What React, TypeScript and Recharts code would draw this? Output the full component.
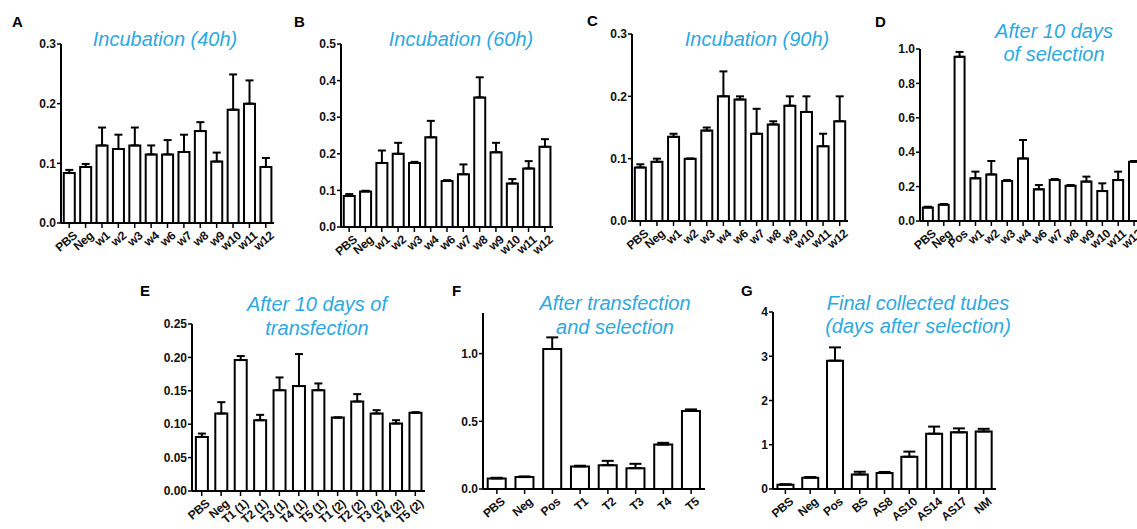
import React from 'react';
import { BarChart, Bar, XAxis, YAxis, ErrorBar } from 'recharts';

const FONT = '"Liberation Sans", Arial, Helvetica, sans-serif';
const TITLE_COLOR = '#2ea8df';

// Panel A
const aCats = ['PBS', 'Neg', 'w1', 'w2', 'w3', 'w4', 'w6', 'w7', 'w8', 'w9', 'w10', 'w11', 'w12'];
const aVals = [0.084, 0.094, 0.13, 0.124, 0.13, 0.115, 0.115, 0.119, 0.154, 0.103, 0.19, 0.2, 0.094];
const aErr = [0.005, 0.005, 0.03, 0.024, 0.03, 0.015, 0.024, 0.029, 0.015, 0.015, 0.059, 0.039, 0.015];
const aTicks = [0, 0.1, 0.2, 0.3];

// Panel B
const bCats = ['PBS', 'Neg', 'w1', 'w2', 'w3', 'w4', 'w6', 'w7', 'w8', 'w9', 'w10', 'w11', 'w12'];
const bVals = [0.085, 0.097, 0.175, 0.2, 0.175, 0.245, 0.126, 0.144, 0.354, 0.204, 0.119, 0.16, 0.219];
const bErr = [0.005, 0.002, 0.034, 0.03, 0.003, 0.045, 0.002, 0.027, 0.055, 0.026, 0.012, 0.02, 0.021];
const bTicks = [0, 0.1, 0.2, 0.3, 0.4, 0.5];

// Panel C
const cCats = ['PBS', 'Neg', 'w1', 'w2', 'w3', 'w4', 'w6', 'w7', 'w8', 'w9', 'w10', 'w11', 'w12'];
const cVals = [0.086, 0.095, 0.135, 0.1, 0.145, 0.2, 0.195, 0.14, 0.155, 0.185, 0.175, 0.12, 0.16];
const cErr = [0.005, 0.005, 0.005, 0, 0.005, 0.04, 0.005, 0.04, 0.005, 0.015, 0.025, 0.02, 0.04];
const cTicks = [0, 0.1, 0.2, 0.3];

// Panel D
const dCats = ['PBS', 'Neg', 'Pos', 'w1', 'w2', 'w3', 'w4', 'w6', 'w7', 'w8', 'w9', 'w10', 'w11', 'w12'];
const dVals = [0.078, 0.095, 0.955, 0.248, 0.271, 0.233, 0.364, 0.184, 0.238, 0.205, 0.229, 0.174, 0.238, 0.345];
const dErr = [0.005, 0.004, 0.028, 0.039, 0.078, 0.005, 0.107, 0.025, 0.006, 0.004, 0.029, 0.045, 0.049, 0.004];
const dTicks = [0, 0.2, 0.4, 0.6, 0.8, 1.0];

// Panel E
const eCats = ['PBS', 'Neg', 'T1 (1)', 'T2 (1)', 'T3 (1)', 'T4 (1)', 'T5 (1)', 'T1 (2)', 'T2 (2)', 'T3 (2)', 'T4 (2)', 'T5 (2)'];
const eVals = [0.081, 0.116, 0.196, 0.106, 0.151, 0.157, 0.151, 0.11, 0.134, 0.116, 0.101, 0.117];
const eErr = [0.005, 0.017, 0.006, 0.008, 0.019, 0.048, 0.01, 0, 0.011, 0.005, 0.005, 0.001];
const eTicks = [0, 0.05, 0.1, 0.15, 0.2, 0.25];

// Panel F
const fCats = ['PBS', 'Neg', 'Pos', 'T1', 'T2', 'T3', 'T4', 'T5'];
const fVals = [0.078, 0.088, 1.034, 0.167, 0.176, 0.154, 0.328, 0.576];
const fErr = [0.005, 0.005, 0.086, 0.005, 0.032, 0.032, 0.013, 0.012];
const fTicks = [0, 0.5, 1.0];

// Panel G
const gCats = ['PBS', 'Neg', 'Pos', 'BS', 'AS8', 'AS10', 'AS14', 'AS17', 'NM'];
const gVals = [0.098, 0.257, 2.9, 0.33, 0.36, 0.73, 1.25, 1.28, 1.3];
const gErr = [0.01, 0.013, 0.3, 0.06, 0.025, 0.115, 0.16, 0.09, 0.06];
const gTicks = [0, 1, 2, 3, 4];

const XTick = (props: any) => {
  const { x, y, payload } = props;
  return (
    <text
      x={0}
      y={0}
      dy={9}
      transform={`translate(${x + 3},${y + 1}) rotate(-40)`}
      textAnchor="end"
      fontSize={12}
      fontWeight="bold"
      fontFamily={FONT}
      letterSpacing={-0.3}
      fill="#111"
    >
      {payload.value}
    </text>
  );
};

type PanelProps = {
  cats: string[];
  vals: number[];
  errs: number[];
  axisX: number;
  yTop: number;
  yBot: number;
  xEnd: number;
  domain: [number, number];
  ticks: number[];
  fmt: (v: number) => string;
  gap: string;
  cap: number;
};

function Panel(p: PanelProps) {
  const data = p.cats.map((c, i) => ({ name: c, value: p.vals[i], err: [0, p.errs[i]] }));
  const ML = 45;
  const MT = 12;
  const XH = 60;
  const MR = 5;
  const width = ML + (p.xEnd - p.axisX) + MR;
  const height = MT + (p.yBot - p.yTop) + XH;
  return (
    <div style={{ position: 'absolute', left: p.axisX - ML, top: p.yTop - MT }}>
      <BarChart
        width={width}
        height={height}
        data={data}
        margin={{ top: MT, right: MR, bottom: 0, left: 0 }}
        barCategoryGap={p.gap}
      >
        <XAxis
          dataKey="name"
          type="category"
          interval={0}
          height={XH}
          tick={(props: any) => <XTick {...props} />}
          tickSize={5}
          tickMargin={1}
          axisLine={{ stroke: '#000', strokeWidth: 2 }}
          tickLine={{ stroke: '#000', strokeWidth: 1.5 }}
        />
        <YAxis
          width={ML}
          type="number"
          domain={p.domain}
          ticks={p.ticks}
          interval={0}
          allowDataOverflow
          tickFormatter={p.fmt}
          tickSize={4}
          tickMargin={1}
          axisLine={{ stroke: '#000', strokeWidth: 2 }}
          tickLine={{ stroke: '#000', strokeWidth: 1.5 }}
          tick={{ fontSize: 12, fontWeight: 'bold', fill: '#111', fontFamily: FONT }}
        />
        <Bar dataKey="value" fill="#fff" stroke="#000" strokeWidth={2} isAnimationActive={false}>
          <ErrorBar dataKey="err" width={p.cap} stroke="#000" strokeWidth={2} direction="y" isAnimationActive={false} />
        </Bar>
      </BarChart>
    </div>
  );
}

const f1 = (v: number) => v.toFixed(1);
const f2 = (v: number) => v.toFixed(2);
const f0 = (v: number) => v.toFixed(0);

export default function App() {
  const letter = { fontSize: 15, fontWeight: 'bold' as const, fontFamily: FONT, fill: '#000' };
  const title = { fontSize: 20, fontStyle: 'italic' as const, fontFamily: FONT, fill: TITLE_COLOR, textAnchor: 'middle' as const };
  return (
    <div style={{ position: 'absolute', left: 0, top: 0, width: 1137, height: 529, overflow: 'hidden', background: '#fff' }}>
      <Panel cats={aCats} vals={aVals} errs={aErr} axisX={61} yTop={44} yBot={223} xEnd={274} domain={[0, 0.3]} ticks={aTicks} fmt={f1} gap="17%" cap={4} />
      <Panel cats={bCats} vals={bVals} errs={bErr} axisX={341} yTop={44} yBot={227} xEnd={553} domain={[0, 0.5]} ticks={bTicks} fmt={f1} gap="17%" cap={4} />
      <Panel cats={cCats} vals={cVals} errs={cErr} axisX={632} yTop={34} yBot={221} xEnd={848} domain={[0, 0.3]} ticks={cTicks} fmt={f1} gap="17%" cap={4} />
      <Panel cats={dCats} vals={dVals} errs={dErr} axisX={920} yTop={49} yBot={221} xEnd={1142} domain={[0, 1.0]} ticks={dTicks} fmt={f1} gap="18%" cap={4} />
      <Panel cats={eCats} vals={eVals} errs={eErr} axisX={192} yTop={324} yBot={491} xEnd={425} domain={[0, 0.25]} ticks={eTicks} fmt={f2} gap="20%" cap={4} />
      <Panel cats={fCats} vals={fVals} errs={fErr} axisX={483} yTop={313} yBot={489} xEnd={705} domain={[0, 1.3]} ticks={fTicks} fmt={f1} gap="17%" cap={6} />
      <Panel cats={gCats} vals={gVals} errs={gErr} axisX={773} yTop={312} yBot={489} xEnd={996} domain={[0, 4]} ticks={gTicks} fmt={f0} gap="18%" cap={6} />
      <svg width={1137} height={529} style={{ position: 'absolute', left: 0, top: 0, pointerEvents: 'none' }}>
        <text x={12} y={26.5} {...letter}>A</text>
        <text x={294} y={26.5} {...letter}>B</text>
        <text x={587} y={26} {...letter}>C</text>
        <text x={875} y={26.5} {...letter}>D</text>
        <text x={140} y={295.5} {...letter}>E</text>
        <text x={452} y={296} {...letter}>F</text>
        <text x={741} y={296} {...letter}>G</text>

        <text x={165} y={46} {...title}>Incubation (40h)</text>
        <text x={461} y={46} {...title}>Incubation (60h)</text>
        <text x={757} y={46} {...title}>Incubation (90h)</text>
        <text x={1054} y={38} {...title}>After 10 days</text>
        <text x={1054} y={61} {...title}>of selection</text>
        <text x={317} y={311} {...title}>After 10 days of</text>
        <text x={317} y={335} {...title}>transfection</text>
        <text x={615} y={310} {...title}>After transfection</text>
        <text x={615} y={334} {...title}>and selection</text>
        <text x={918} y={310} {...title}>Final collected tubes</text>
        <text x={918} y={333} {...title}>(days after selection)</text>
      </svg>
    </div>
  );
}
